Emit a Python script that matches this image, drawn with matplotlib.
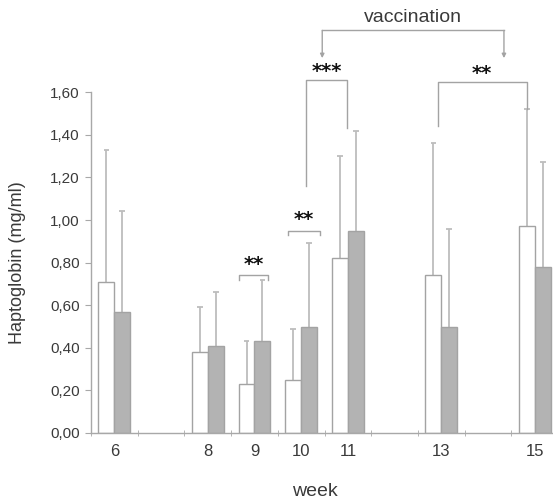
import numpy as np
import matplotlib
matplotlib.use('Agg')
from matplotlib import pyplot as plt

plt.rcParams['font.family'] = ['Liberation Sans', 'DejaVu Sans']

weeks = [6, 8, 9, 10, 11, 13, 15]
week_labels = ['6', '8', '9', '10', '11', '13', '15']
white_mean = [0.71, 0.38, 0.23, 0.25, 0.82, 0.74, 0.97]
white_upper = [1.33, 0.59, 0.43, 0.49, 1.30, 1.36, 1.52]
grey_mean = [0.57, 0.41, 0.43, 0.50, 0.95, 0.50, 0.78]
grey_upper = [1.04, 0.66, 0.72, 0.89, 1.42, 0.96, 1.27]
y_ticks = [0.0, 0.2, 0.4, 0.6, 0.8, 1.0, 1.2, 1.4, 1.6]

# significance brackets: (x left, x right, bar height, stars) and
# (x left, x right, bar height, left leg end, right leg end, stars)
small_brackets = [(8.67, 9.29, 0.74, '**'), (9.71, 10.40, 0.95, '**')]
big_brackets = [(10.11, 10.99, 1.655, 1.16, 1.43, '***'),
                (12.92, 14.83, 1.65, 1.44, 1.52, '**')]

edge = '#a3a3a3'
err_col = '#bdbdbd'
txt = '#3a3a3a'
w = 0.34

fig = plt.figure(figsize=(5.53, 5.01), dpi=100)
ax = fig.add_axes([91 / 553, 68 / 501, 462 / 553, 433 / 501])

x = np.array(weeks, dtype=float)
ax.bar(x - w / 2, white_mean, w, color='white', edgecolor=edge, linewidth=1.0, zorder=2)
ax.bar(x + w / 2, grey_mean, w, color='#b3b3b3', edgecolor=edge, linewidth=1.0, zorder=2)

cap = 0.06
for xs, m, u in [(x - w / 2, white_mean, white_upper), (x + w / 2, grey_mean, grey_upper)]:
    ax.vlines(xs, m, u, color=err_col, linewidth=1.3, zorder=1)
    ax.hlines(u, xs - cap, xs + cap, color=err_col, linewidth=1.3, zorder=1)

star_font = dict(ha='center', va='center', fontsize=14, fontweight='bold',
                 color='#111111', family='DejaVu Sans')
for x0, x1, h, s in small_brackets:
    ax.plot([x0, x0, x1, x1], [h - 0.02, h, h, h - 0.02], color=edge, lw=1.0, clip_on=False)
    ax.text((x0 + x1) / 2, h + 0.05, s, **star_font)

for x0, x1, h, l0, l1, s in big_brackets:
    ax.plot([x0, x0, x1, x1], [l0, h, h, l1], color=edge, lw=1.0, clip_on=False)
    ax.text((x0 + x1) / 2, h + 0.04, s, **star_font)

# vaccination bracket
vx0, vx1, vh, vend = 10.45, 14.34, 1.89, 1.76
ax.plot([vx0, vx1], [vh, vh], color=edge, lw=1.0, clip_on=False)
for vx in (vx0, vx1):
    ax.annotate('', xy=(vx, vend), xytext=(vx, vh), annotation_clip=False,
                arrowprops=dict(arrowstyle='-|>', color=edge, lw=1.0,
                                mutation_scale=6, shrinkA=0, shrinkB=0))
ax.text((vx0 + vx1) / 2, 1.95, 'vaccination', ha='center', va='center',
        fontsize=14, color=txt)

ax.set_xlim(5.5, 15.39)
ax.set_ylim(0, 433 / 213)
ax.spines['top'].set_visible(False)
ax.spines['right'].set_visible(False)
ax.spines['left'].set_bounds(0, 1.6)
for sp in ('left', 'bottom'):
    ax.spines[sp].set_color('#a8a8a8')
    ax.spines[sp].set_linewidth(1.0)

ax.set_yticks(y_ticks)
ax.set_yticklabels([f'{v:.2f}'.replace('.', ',') for v in y_ticks])
ax.set_xticks(weeks)
ax.set_xticklabels(week_labels)
ax.set_xticks(np.arange(5.5, 15.0, 1.0), minor=True)
ax.tick_params(axis='x', which='major', length=0, pad=8, labelsize=12, labelcolor=txt)
ax.tick_params(axis='x', which='minor', length=5, direction='inout', color='#a8a8a8')
ax.tick_params(axis='y', length=4, direction='out', color='#a8a8a8', labelsize=11,
               labelcolor=txt, pad=4)

ax.set_ylabel('Haptoglobin (mg/ml)', fontsize=13, color=txt)
ax.yaxis.set_label_coords(-0.14, 0.8 / (433 / 213))
ax.set_xlabel('week', fontsize=14, color=txt)
ax.xaxis.set_label_coords((315 - 91) / 462, -0.115)

fig.savefig('out.png', dpi=100)
